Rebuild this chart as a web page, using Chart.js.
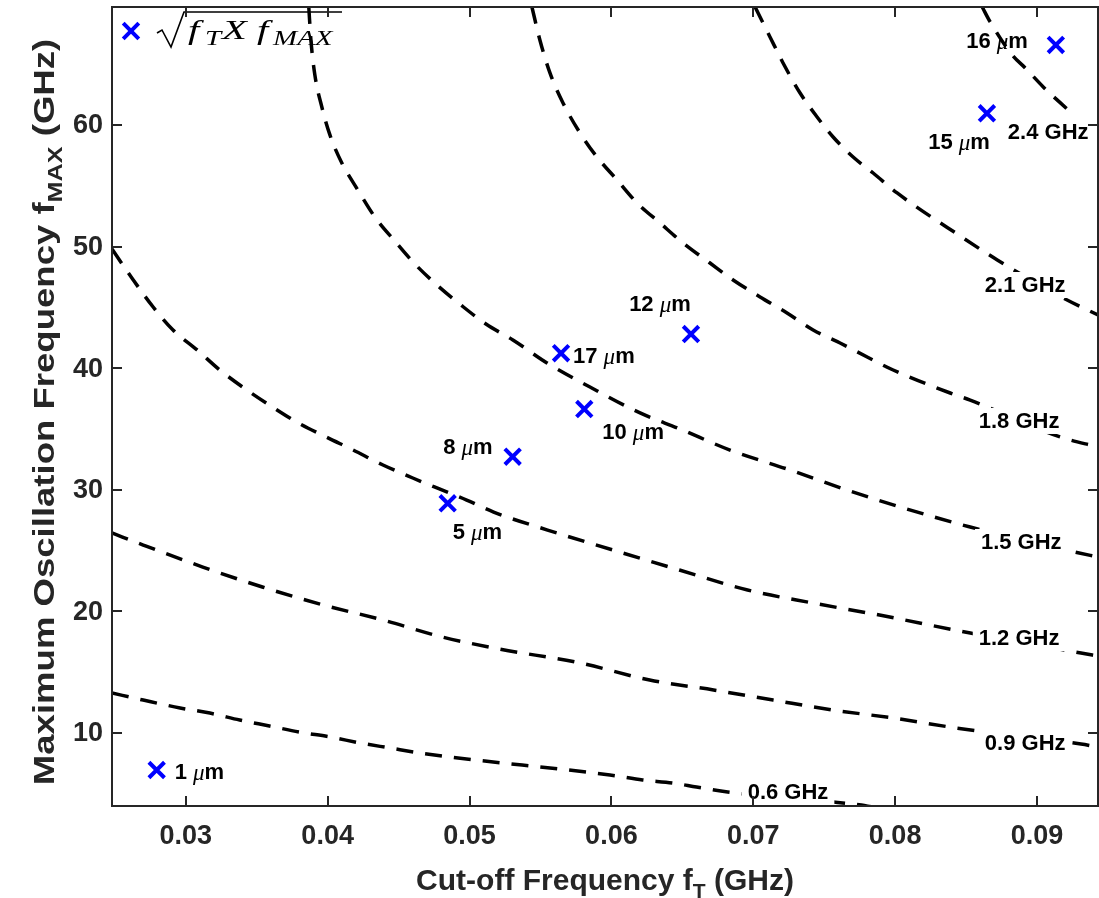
<!DOCTYPE html>
<html>
<head>
<meta charset="utf-8">
<script src="https://cdn.jsdelivr.net/npm/chart.js@4.4.1/dist/chart.umd.min.js"></script>
<style>
  html, body { margin: 0; padding: 0; background: #fff; overflow: hidden; }
  #wrap { width: 1099px; height: 898px; }
  canvas { display: block; }
</style>
</head>
<body>
<div id="wrap"><canvas id="chart" width="1099" height="898"></canvas></div>
<script>
// measured devices (fT, fMAX in GHz)
const deviceLabels = ['1 μm', '5 μm', '8 μm', '17 μm', '10 μm', '12 μm', '15 μm', '16 μm'];
const deviceFt   = [0.02795, 0.04846, 0.05304, 0.05645, 0.05809, 0.06561, 0.08647, 0.09133];
const deviceFmax = [6.96, 28.89, 32.72, 41.23, 36.64, 42.81, 60.96, 66.58];

// iso lines of sqrt(fT x fMAX)
const c06Ft   = [0.0248, 0.0270, 0.0296, 0.0317, 0.0338, 0.0359, 0.0380, 0.0402, 0.0423, 0.0444, 0.0465, 0.0486, 0.0599, 0.0622, 0.0643, 0.0660, 0.0682, 0.0770, 0.0786];
const c06Fmax = [13.29, 12.71, 12.06, 11.64, 11.07, 10.58, 10.08, 9.67, 9.18, 8.77, 8.36, 8.03, 6.55, 6.14, 5.89, 5.56, 5.15, 4.16, 3.90];

const c09Ft   = [0.0248, 0.0270, 0.0312, 0.0354, 0.0397, 0.0439, 0.0481, 0.0521, 0.0578, 0.0627, 0.0672, 0.0714, 0.0756, 0.0799, 0.0844, 0.0931, 0.0943];
const c09Fmax = [26.45, 25.46, 23.65, 22.01, 20.53, 19.29, 17.89, 16.91, 15.76, 14.36, 13.54, 12.71, 11.89, 11.23, 10.40, 9.10, 8.85];

const c12Ft   = [0.0248, 0.0263, 0.0277, 0.0291, 0.0308, 0.0324, 0.0343, 0.0361, 0.0378, 0.0399, 0.0418, 0.0439, 0.0460, 0.0477, 0.0498, 0.0517, 0.0555, 0.0601, 0.0648, 0.0696, 0.0742, 0.0789, 0.0853, 0.0931, 0.0943];
const c12Fmax = [49.8, 47.25, 45.03, 43.14, 41.5, 39.85, 38.21, 36.81, 35.58, 34.34, 33.27, 32.04, 30.97, 30.15, 29.16, 28.17, 26.69, 25.05, 23.4, 21.76, 20.69, 19.7, 18.22, 16.58, 16.33];

const c15Ft   = [0.03867, 0.03882, 0.0391, 0.03959, 0.04016, 0.0410, 0.04213, 0.04333, 0.04467, 0.04608, 0.0477, 0.04939, 0.05116, 0.05306, 0.05546, 0.05849, 0.06202, 0.06484, 0.06836, 0.07259, 0.07661, 0.08035, 0.08529, 0.09269, 0.0943];
const c15Fmax = [69.7, 66.99, 64.11, 61.48, 59.18, 56.88, 54.65, 52.43, 50.54, 48.65, 46.84, 45.2, 43.63, 42.32, 40.43, 38.45, 36.32, 35.0, 33.27, 31.63, 29.98, 28.59, 26.94, 24.88, 24.47];

const c18Ft   = [0.0544, 0.05496, 0.05567, 0.05659, 0.05779, 0.05898, 0.0604, 0.06181, 0.06343, 0.06505, 0.06695, 0.06858, 0.07048, 0.07238, 0.07422, 0.07612, 0.07803, 0.07986, 0.08388, 0.08529, 0.09164, 0.0943];
const c18Fmax = [69.7, 66.99, 64.28, 61.81, 59.34, 57.37, 55.48, 53.59, 51.94, 50.3, 48.65, 47.25, 45.86, 44.54, 43.14, 42.07, 40.92, 39.85, 37.96, 37.38, 34.34, 33.52];

const c21Ft   = [0.07013, 0.07118, 0.0721, 0.0733, 0.0745, 0.07563, 0.07704, 0.07845, 0.08014, 0.0848, 0.0872, 0.09185, 0.0943];
const c21Fmax = [69.7, 67.24, 65.1, 62.63, 60.66, 59.01, 57.37, 56.05, 54.41, 50.71, 48.9, 45.77, 44.38];

const c24Ft   = [0.08614, 0.0867, 0.08825, 0.08917, 0.09044, 0.0922];
const c24Fmax = [69.7, 68.47, 65.76, 64.69, 63.13, 61.23];

const contourNames     = ['0.6 GHz', '0.9 GHz', '1.2 GHz', '1.5 GHz', '1.8 GHz', '2.1 GHz', '2.4 GHz'];
const contourLabelFt   = [0.07245, 0.08917, 0.08874, 0.08889, 0.08874, 0.08917, 0.09079];
const contourLabelFmax = [5.15, 9.18, 17.81, 25.71, 35.66, 46.84, 59.42];

const xTicks = [0.03, 0.04, 0.05, 0.06, 0.07, 0.08, 0.09];
const yTicks = [10, 20, 30, 40, 50, 60];

const SANS = 'Arial, "Liberation Sans", Helvetica, sans-serif';
const SERIF = '"Liberation Serif", "DejaVu Serif", serif';
const AXIS_COLOR = '#262626';

// where each device label sits relative to its marker
const labelPlace = [
  { dx: 18, dy: 3, align: 'left' },
  { dx: 5, dy: 30, align: 'left' },
  { dx: -20, dy: -9, align: 'right' },
  { dx: 12, dy: 4, align: 'left' },
  { dx: 18, dy: 24, align: 'left' },
  { dx: -31, dy: -29, align: 'center' },
  { dx: 3, dy: 30, align: 'right' },
  { dx: -28, dy: -3, align: 'right' }
];

const contours = [
  [c06Ft, c06Fmax], [c09Ft, c09Fmax], [c12Ft, c12Fmax], [c15Ft, c15Fmax],
  [c18Ft, c18Fmax], [c21Ft, c21Fmax], [c24Ft, c24Fmax]
];

const toPoints = (xs, ys) => xs.map((v, i) => ({ x: v, y: ys[i] }));

const datasets = contours.map((c, i) => ({
  label: contourNames[i],
  type: 'line',
  data: toPoints(c[0], c[1]),
  borderColor: '#000',
  borderWidth: 3.5,
  borderDash: [17, 12],
  pointRadius: 0,
  cubicInterpolationMode: 'monotone',
  fill: false,
  order: 2
}));

datasets.push({
  label: 'devices',
  data: toPoints(deviceFt, deviceFmax),
  pointStyle: 'crossRot',
  pointRadius: 11,
  pointBorderWidth: 4,
  borderColor: '#0000ff',
  backgroundColor: '#0000ff',
  showLine: false,
  order: 1
});

// text with an italic mu, e.g. "12 μm"
function drawMicron(ctx, text, x, y, align) {
  const [num, unit] = text.split(' ');
  const a = 'bold 22px ' + SANS, b = 'italic 23px ' + SERIF;
  ctx.font = a; const w1 = ctx.measureText(num + ' ').width;
  ctx.font = b; const w2 = ctx.measureText('μ').width;
  ctx.font = a; const w3 = ctx.measureText(unit.slice(1)).width;
  const w = w1 + w2 + w3;
  let sx = x;
  if (align === 'right') sx = x - w;
  if (align === 'center') sx = x - w / 2;
  ctx.textAlign = 'left';
  ctx.textBaseline = 'middle';
  ctx.fillStyle = '#000';
  ctx.font = a; ctx.fillText(num + ' ', sx, y);
  ctx.font = b; ctx.fillText('μ', sx + w1, y + 1);
  ctx.font = a; ctx.fillText(unit.slice(1), sx + w1 + w2, y);
}

// title pieces, some of them subscripts
function drawPieces(ctx, parts, cx, base, size) {
  const main = 'bold ' + size + 'px ' + SANS, sub = 'bold ' + Math.round(size * 0.7) + 'px ' + SANS;
  let w = 0;
  parts.forEach(p => { ctx.font = p.sub ? sub : main; p.w = ctx.measureText(p.t).width; w += p.w; });
  let x = cx - w / 2;
  ctx.textAlign = 'left';
  ctx.textBaseline = 'alphabetic';
  ctx.fillStyle = AXIS_COLOR;
  parts.forEach(p => {
    ctx.font = p.sub ? sub : main;
    ctx.fillText(p.t, x, base + (p.sub ? size * 0.28 : 0));
    x += p.w;
  });
}

function drawCross(ctx, x, y) {
  const r = 7.8;
  ctx.save();
  ctx.strokeStyle = '#0000ff';
  ctx.lineWidth = 4;
  ctx.beginPath();
  ctx.moveTo(x - r, y - r); ctx.lineTo(x + r, y + r);
  ctx.moveTo(x + r, y - r); ctx.lineTo(x - r, y + r);
  ctx.stroke();
  ctx.restore();
}

const decorations = {
  id: 'decorations',
  afterDatasetsDraw(chart) {
    const { ctx, chartArea: a, scales: { x, y } } = chart;
    ctx.save();

    // contour labels, breaking the dashed line
    ctx.font = 'bold 22px ' + SANS;
    ctx.textAlign = 'center';
    ctx.textBaseline = 'middle';
    contourNames.forEach((t, i) => {
      const px = x.getPixelForValue(contourLabelFt[i]);
      const py = y.getPixelForValue(contourLabelFmax[i]);
      const w = ctx.measureText(t).width;
      ctx.fillStyle = '#fff';
      ctx.fillRect(px - w / 2 - 6, py - 13, w + 12, 26);
      ctx.fillStyle = '#000';
      ctx.fillText(t, px, py + 1);
    });

    // device labels
    deviceLabels.forEach((t, i) => {
      const px = x.getPixelForValue(deviceFt[i]);
      const py = y.getPixelForValue(deviceFmax[i]);
      const p = labelPlace[i];
      drawMicron(ctx, t, px + p.dx, py + p.dy, p.align);
    });

    // legend: blue cross + sqrt(fT X fMAX)
    drawCross(ctx, a.left + 19, a.top + 24);
    ctx.strokeStyle = '#000';
    ctx.lineWidth = 1.6;
    ctx.beginPath();
    ctx.moveTo(a.left + 45, a.top + 26);
    ctx.lineTo(a.left + 50, a.top + 23);
    ctx.lineTo(a.left + 59, a.top + 40);
    ctx.lineTo(a.left + 72, a.top + 5);
    ctx.lineTo(a.left + 230, a.top + 5);
    ctx.stroke();
    const legendParts = [
      { t: 'f', dx: 76, s: 28, dy: 0 }, { t: 'T', dx: 93, s: 20, dy: 6 },
      { t: 'X', dx: 110, s: 28, dy: 0 }, { t: 'f', dx: 145, s: 28, dy: 0 },
      { t: 'MAX', dx: 161, s: 20, dy: 6 }
    ];
    ctx.fillStyle = '#000';
    ctx.textAlign = 'left';
    ctx.textBaseline = 'alphabetic';
    legendParts.forEach(p => {
      ctx.save();
      ctx.translate(a.left + p.dx, a.top + 32 + p.dy);
      ctx.scale(1.45, 1);
      ctx.font = 'italic ' + p.s + 'px ' + SERIF;
      ctx.fillText(p.t, 0, 0);
      ctx.restore();
    });

    // axes box with inward ticks
    ctx.strokeStyle = AXIS_COLOR;
    ctx.lineWidth = 2;
    ctx.strokeRect(a.left, a.top, a.right - a.left, a.bottom - a.top);
    ctx.beginPath();
    xTicks.forEach(v => {
      const px = Math.round(x.getPixelForValue(v));
      ctx.moveTo(px, a.bottom); ctx.lineTo(px, a.bottom - 10);
      ctx.moveTo(px, a.top); ctx.lineTo(px, a.top + 10);
    });
    yTicks.forEach(v => {
      const py = Math.round(y.getPixelForValue(v));
      ctx.moveTo(a.left, py); ctx.lineTo(a.left + 10, py);
      ctx.moveTo(a.right, py); ctx.lineTo(a.right - 10, py);
    });
    ctx.stroke();

    // tick labels
    ctx.fillStyle = AXIS_COLOR;
    ctx.font = 'bold 27px ' + SANS;
    ctx.textAlign = 'center';
    ctx.textBaseline = 'middle';
    xTicks.forEach(v => ctx.fillText(v.toFixed(2), x.getPixelForValue(v), a.bottom + 31));
    ctx.textAlign = 'right';
    yTicks.forEach(v => ctx.fillText(String(v), a.left - 9, y.getPixelForValue(v) + 1));

    // axis titles
    drawPieces(ctx, [
      { t: 'Cut-off Frequency f' }, { t: 'T', sub: true }, { t: ' (GHz)' }
    ], (a.left + a.right) / 2, 890, 30);
    ctx.save();
    ctx.translate(54, 412);
    ctx.rotate(-Math.PI / 2);
    ctx.scale(1.26, 1);
    drawPieces(ctx, [
      { t: 'Maximum Oscillation Frequency f' }, { t: 'MAX', sub: true }, { t: ' (GHz)' }
    ], 0, 0, 29);
    ctx.restore();

    ctx.restore();
  }
};

new Chart(document.getElementById('chart'), {
  type: 'scatter',
  data: { datasets },
  options: {
    responsive: false,
    animation: false,
    devicePixelRatio: 1,
    layout: { autoPadding: false, padding: { top: 7, right: 1, left: 0, bottom: 0 } },
    plugins: { legend: { display: false }, tooltip: { enabled: false } },
    scales: {
      x: {
        type: 'linear',
        min: 0.0248,
        max: 0.0943,
        afterFit: s => { s.height = 92; },
        grid: { display: false, drawTicks: false },
        border: { display: false },
        ticks: { display: false }
      },
      y: {
        type: 'linear',
        min: 4,
        max: 69.7,
        afterFit: s => { s.width = 112; },
        grid: { display: false, drawTicks: false },
        border: { display: false },
        ticks: { display: false }
      }
    }
  },
  plugins: [decorations]
});
</script>
</body>
</html>
